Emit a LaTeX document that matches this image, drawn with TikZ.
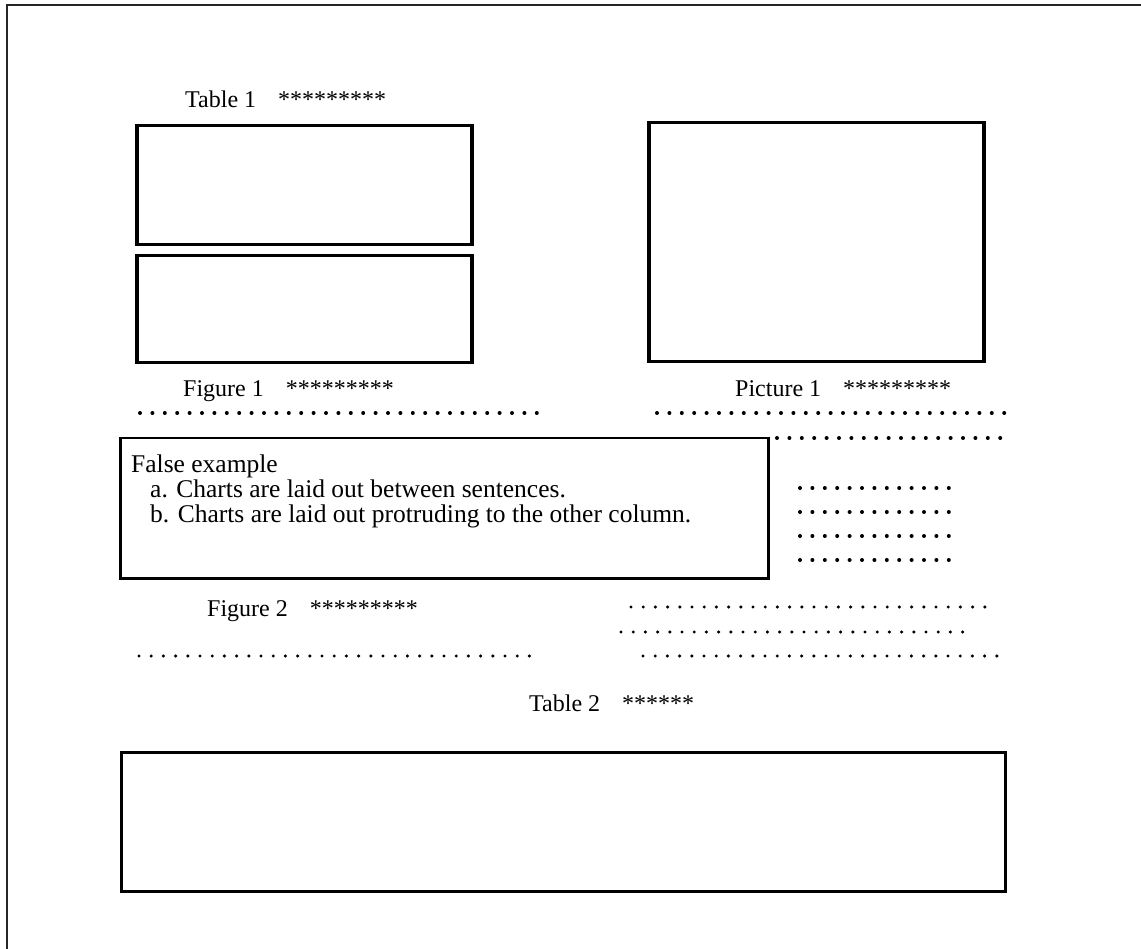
\documentclass[tikz,border=0pt]{standalone}
\usepackage{fontspec}
\setmainfont{Liberation Serif}
\begin{document}
\begin{tikzpicture}[x=1pt,y=-1pt,
  txt/.style={anchor=base west, inner sep=0pt, font=\fontsize{24}{28}\selectfont},
  bodytxt/.style={anchor=base west, inner sep=0pt, font=\fontsize{25.5}{30}\selectfont},
  panel/.style={draw, rectangle, anchor=north west, inner sep=0pt},
  dotrow/.style={line width=4pt, line cap=round, dash pattern=on 0pt off 12.4pt},
  dotrowsmall/.style={line width=3.4pt, line cap=round, dash pattern=on 0pt off 12.2pt}]
\useasboundingbox (0,0) rectangle (1141,949);
% page frame (top and left edges)
\draw[line width=2pt, black!85] (1141,5) -- (7,5) -- (7,949);
% Table 1
\node[txt] (t1cap) at (185,108) {Table 1\hspace{22pt}*********};
\node[panel, line width=3.5pt, minimum width=335pt, minimum height=119pt] (t1a) at (135,124) {};
\node[panel, line width=3.5pt, minimum width=335pt, minimum height=107pt] (t1b) at (135,254) {};
% Picture 1
\node[panel, line width=3.5pt, minimum width=335pt, minimum height=239pt] (pic) at (647,121) {};
% captions
\node[txt] (f1cap) at (183,397) {Figure 1\hspace{22pt}*********};
\node[txt] (p1cap) at (735,397) {Picture 1\hspace{22pt}*********};
% dotted text rows
\draw[dotrow] (140,413) -- (540,413);
\draw[dotrow] (657,413) -- (1010,413);
\draw[dotrow] (777,438) -- (1010,438);
\draw[dotrow] (800,488) -- (960,488);
\draw[dotrow] (800,512) -- (960,512);
\draw[dotrow] (800,536) -- (960,536);
\draw[dotrow] (800,560) -- (960,560);
% False example box
\node[panel, line width=2.5pt, minimum width=648pt, minimum height=140pt] (fbox) at (119,437) {};
\node[bodytxt] (fl0) at (131,472) {False example};
\node[bodytxt] (fl1) at (150,497) {a. Charts are laid out between sentences.};
\node[bodytxt] (fl2) at (150,522) {b. Charts are laid out protruding to the other column.};
% Figure 2
\node[txt] (f2cap) at (207,616) {Figure 2\hspace{22pt}*********};
\draw[dotrowsmall] (631,607) -- (985,607);
\draw[dotrowsmall] (621,632) -- (973,632);
\draw[dotrowsmall] (139,656) -- (540,656);
\draw[dotrowsmall] (643,656) -- (998,656);
% Table 2
\node[txt] (t2cap) at (529,711) {Table 2\hspace{22pt}******};
\node[panel, line width=2.8pt, minimum width=884pt, minimum height=139pt] (t2) at (120,751) {};
\end{tikzpicture}
\end{document}
